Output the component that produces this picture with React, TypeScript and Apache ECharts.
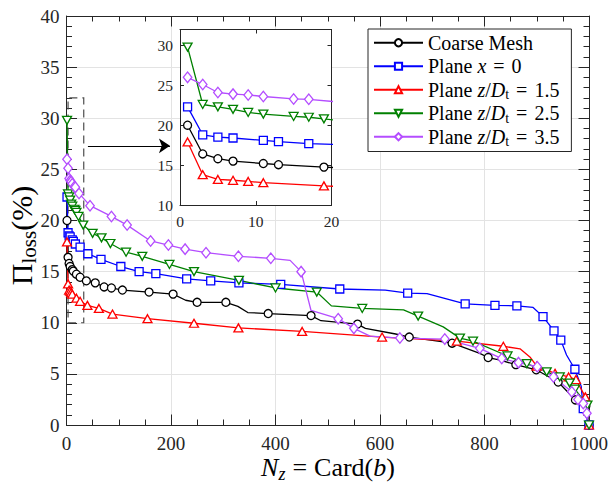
import React, { useEffect, useRef } from 'react';
import * as echarts from 'echarts';

const FONT = 'Liberation Serif';

// [N_z, Pi_loss (%), 1 = marker drawn / 0 = line vertex only]
const coarseMesh: number[][] = [
  [1, 20.0, 1], [3, 16.4, 1], [5, 15.8, 1], [7, 15.5, 1], [11, 15.2, 1], [13, 15.05, 1], [19, 14.75, 1],
  [26, 14.45, 1], [38, 14.1, 1], [55, 13.9, 1], [72, 13.5, 1], [86, 13.4, 1], [107, 13.2, 1],
  [158, 13.0, 1], [204, 12.8, 1], [228, 12.2, 0], [250, 12.0, 1], [305, 12.0, 1], [328, 11.6, 0],
  [347, 11.0, 0], [386, 10.9, 1], [468, 10.7, 1], [487, 10.2, 0], [557, 9.87, 1], [572, 9.45, 0],
  [630, 8.9, 0], [656, 8.6, 1], [738, 8.0, 1], [791, 7.0, 0], [807, 6.6, 1], [830, 6.35, 0],
  [860, 5.9, 1], [899, 5.4, 1], [941, 4.2, 1], [974, 2.45, 1], [994, 1.85, 1], [1000, 0, 1],
];
const planeX0: number[][] = [
  [1, 22.3, 1], [3, 18.8, 1], [5, 18.5, 1], [7, 18.4, 1], [11, 18.1, 1], [13, 17.95, 1], [17, 17.7, 1],
  [26, 17.4, 1], [41, 16.75, 1], [66, 16.2, 1], [104, 15.5, 1], [139, 15.0, 1], [171, 14.8, 1],
  [230, 14.3, 1], [276, 14.1, 1], [330, 13.9, 1], [410, 13.75, 1], [523, 13.3, 1], [610, 13.2, 0],
  [653, 12.9, 1], [690, 12.85, 0], [745, 12.1, 0], [763, 11.85, 1], [820, 11.7, 1], [862, 11.65, 1],
  [893, 11.5, 0], [912, 10.6, 1], [933, 9.2, 1], [946, 8.3, 1], [957, 6.85, 0], [973, 5.45, 1],
  [985, 3.8, 0], [989, 1.6, 1], [1000, 0, 1],
];
const planeZ15: number[][] = [
  [1, 17.9, 1], [3, 13.8, 1], [5, 13.2, 1], [7, 13.1, 1], [9, 12.95, 1], [11, 12.8, 1], [19, 12.4, 1],
  [26, 12.1, 1], [40, 11.7, 1], [62, 11.4, 1], [88, 10.85, 1], [155, 10.4, 1], [244, 9.95, 1],
  [329, 9.5, 1], [451, 9.15, 1], [604, 8.6, 1], [747, 8.2, 1], [836, 7.7, 1], [868, 7.45, 0],
  [888, 6.6, 0], [900, 5.75, 1], [935, 5.05, 1], [961, 4.7, 1], [975, 4.45, 1], [993, 2.75, 1],
  [1000, 0, 1],
];
const planeZ25: number[][] = [
  [1, 29.8, 1], [3, 22.6, 1], [5, 22.3, 1], [7, 22.0, 1], [9, 21.6, 1], [11, 21.4, 1], [15, 21.1, 1],
  [17, 21.0, 1], [19, 20.8, 1], [23, 20.4, 1], [32, 19.55, 1], [50, 18.75, 1], [67, 18.3, 1],
  [84, 17.75, 1], [114, 16.9, 1], [145, 16.5, 1], [197, 15.7, 1], [244, 15.0, 1], [330, 14.15, 1],
  [400, 13.4, 1], [479, 13.0, 1], [507, 11.65, 0], [566, 11.4, 1], [645, 11.25, 0], [673, 10.65, 1],
  [721, 9.6, 0], [753, 8.5, 1], [778, 8.2, 1], [844, 6.75, 1], [881, 6.0, 1], [919, 5.2, 1],
  [944, 4.7, 1], [963, 4.1, 1], [973, 3.5, 1], [997, 1.95, 1], [1000, 0, 1],
];
const planeZ35: number[][] = [
  [1, 26.0, 1], [3, 25.1, 1], [5, 24.1, 1], [7, 23.9, 1], [9, 23.8, 1], [11, 23.6, 1], [15, 23.3, 1],
  [17, 23.25, 1], [24, 22.65, 1], [45, 21.45, 1], [86, 20.4, 1], [116, 19.55, 1], [161, 18.0, 1],
  [195, 17.6, 1], [227, 17.2, 1], [267, 16.85, 1], [329, 16.5, 1], [391, 16.3, 1], [428, 16.1, 0],
  [449, 15.0, 1], [468, 11.2, 0], [520, 10.4, 1], [550, 9.45, 1], [581, 8.7, 0], [638, 8.5, 1],
  [724, 8.4, 1], [791, 7.5, 1], [833, 6.5, 1], [865, 6.1, 1], [901, 5.7, 1], [932, 4.7, 1],
  [967, 3.25, 1], [979, 2.5, 1], [989, 2.1, 1], [996, 1.15, 1], [1000, 0, 0],
];

const seriesData = [coarseMesh, planeX0, planeZ15, planeZ25, planeZ35];
const seriesNames = ['Coarse Mesh', 'Plane x = 0', 'Plane z/Dt = 1.5', 'Plane z/Dt = 2.5', 'Plane z/Dt = 3.5'];
const legendLabels = [
  'Coarse Mesh',
  'Plane {i|x}{e|=}0',
  'Plane {i|z}/{i|D}{s|t}{e|=}1.5',
  'Plane {i|z}/{i|D}{s|t}{e|=}2.5',
  'Plane {i|z}/{i|D}{s|t}{e|=}3.5',
];
const seriesColors = ['#000000', '#0000ff', '#ff0000', '#008000', '#b44dff'];
const seriesSymbols = ['circle', 'rect', 'triangle', 'path://M0,0L10,0L5,8.66Z', 'diamond'];
const seriesSymbolSizes: any[] = [8, 8, [9, 8], [9, 8], [8.5, 10.5]];

const mainXRange = [0, 1000];
const mainXInterval = 200;
const mainYRange = [0, 40];
const mainYInterval = 5;
const insetXRange = [0, 20];
const insetXInterval = 10;
const insetYRange = [10, 32];
const insetYInterval = 5;
const zoomBox = [[3, 10], [33, 32]];
const arrowLine = [[41, 27.3], [198, 27.3]];

const AXIS_COLOR = '#262626';

function toData(pts: number[][]) {
  return pts.map(([x, y, m]) => (m ? [x, y] : { value: [x, y], symbol: 'none' }));
}
const plain = (v: number) => String(v);

export default function App() {
  const ref = useRef<HTMLDivElement>(null);
  useEffect(() => {
    if (!ref.current) return;
    const chart = echarts.init(ref.current, undefined, { renderer: 'svg' });

    const labelStyle = { fontFamily: FONT, fontSize: 19, color: AXIS_COLOR, formatter: plain };
    const axisLine = { show: true, onZero: false, lineStyle: { color: AXIS_COLOR, width: 1 } };
    const mainTick = { show: true, inside: true, length: 10.5, lineStyle: { color: AXIS_COLOR, width: 1 } };
    const mainMinor = (n: number) => ({ show: true, splitNumber: n, length: 5.5, lineStyle: { color: AXIS_COLOR, width: 1 } });
    const insetTick = { show: true, inside: true, length: 4, lineStyle: { color: AXIS_COLOR, width: 1 } };
    const insetLabel = { fontFamily: FONT, fontSize: 15.5, color: AXIS_COLOR, formatter: plain };

    const series: any[] = [];
    seriesData.forEach((pts, i) => {
      const base = {
        type: 'line',
        name: seriesNames[i],
        data: toData(pts),
        symbol: seriesSymbols[i],
        symbolSize: seriesSymbolSizes[i],
        showSymbol: true,
        showAllSymbol: true,
        clip: true,
        lineStyle: { color: seriesColors[i], width: 1.3 },
        itemStyle: { color: '#ffffff', borderColor: seriesColors[i], borderWidth: 1.3 },
        emphasis: { disabled: true },
        animation: false,
      };
      const main: any = { ...base, xAxisIndex: 0, yAxisIndex: 0, z: 2 };
      if (i === 0) {
        main.markArea = {
          silent: true,
          itemStyle: { color: 'rgba(0,0,0,0)', borderColor: '#4d4d4d', borderWidth: 1.2, borderType: [8, 5] },
          label: { show: false },
          data: [[{ coord: zoomBox[0] }, { coord: zoomBox[1] }]],
        };
        main.markLine = {
          silent: true,
          symbol: ['none', 'arrow'],
          symbolSize: 11,
          label: { show: false },
          lineStyle: { color: '#000', width: 1, type: 'solid' },
          data: [[{ coord: arrowLine[0] }, { coord: arrowLine[1] }]],
        };
      }
      series.push(main);
      series.push({ ...base, xAxisIndex: 2, yAxisIndex: 2, z: 6 });
    });

    const option: any = {
      animation: false,
      textStyle: { fontFamily: FONT },
      grid: [
        { left: 66.5, right: 24, top: 16, bottom: 60, show: false },
        { left: 180, top: 29.5, width: 151.5, height: 175.5, show: true, backgroundColor: '#ffffff', borderWidth: 0, z: 3 },
      ],
      xAxis: [
        {
          type: 'value', gridIndex: 0, position: 'bottom', min: mainXRange[0], max: mainXRange[1], interval: mainXInterval,
          axisLine, axisTick: mainTick, minorTick: mainMinor(4),
          axisLabel: { ...labelStyle, margin: 8.5 },
          splitLine: { show: true, lineStyle: { color: '#e3e3e3', width: 1 } },
        },
        {
          type: 'value', gridIndex: 0, position: 'top', min: mainXRange[0], max: mainXRange[1], interval: mainXInterval,
          axisLine, axisTick: mainTick, minorTick: mainMinor(4), axisLabel: { show: false }, splitLine: { show: false },
        },
        {
          type: 'value', gridIndex: 1, position: 'bottom', min: insetXRange[0], max: insetXRange[1], interval: insetXInterval,
          axisLine, axisTick: insetTick, axisLabel: { ...insetLabel, margin: 8 }, splitLine: { show: false }, z: 4,
        },
        {
          type: 'value', gridIndex: 1, position: 'top', min: insetXRange[0], max: insetXRange[1], interval: insetXInterval,
          axisLine, axisTick: insetTick, axisLabel: { show: false }, splitLine: { show: false }, z: 4,
        },
      ],
      yAxis: [
        {
          type: 'value', gridIndex: 0, position: 'left', min: mainYRange[0], max: mainYRange[1], interval: mainYInterval,
          axisLine, axisTick: mainTick, minorTick: mainMinor(5),
          axisLabel: { ...labelStyle, margin: 7 },
          splitLine: { show: true, lineStyle: { color: '#e3e3e3', width: 1 } },
        },
        {
          type: 'value', gridIndex: 0, position: 'right', min: mainYRange[0], max: mainYRange[1], interval: mainYInterval,
          axisLine, axisTick: mainTick, minorTick: mainMinor(5), axisLabel: { show: false }, splitLine: { show: false },
        },
        {
          type: 'value', gridIndex: 1, position: 'left', min: insetYRange[0], max: insetYRange[1], interval: insetYInterval,
          axisLine, axisTick: insetTick, axisLabel: { ...insetLabel, margin: 7, showMaxLabel: false }, splitLine: { show: false }, z: 4,
        },
        {
          type: 'value', gridIndex: 1, position: 'right', min: insetYRange[0], max: insetYRange[1], interval: insetYInterval,
          axisLine, axisTick: insetTick, axisLabel: { show: false }, splitLine: { show: false }, z: 4,
        },
      ],
      legend: {
        data: seriesNames,
        orient: 'vertical',
        left: 368,
        top: 29,
        padding: [2, 12, 3, 5],
        itemWidth: 49,
        itemHeight: 9,
        itemGap: 0,
        selectedMode: false,
        backgroundColor: '#ffffff',
        borderColor: AXIS_COLOR,
        borderWidth: 1,
        borderRadius: 0,
        z: 8,
        formatter: (name: string) => legendLabels[seriesNames.indexOf(name)],
        textStyle: {
          fontFamily: FONT, fontSize: 20, color: '#000', lineHeight: 23.5,
          rich: {
            i: { fontFamily: FONT, fontSize: 20, fontStyle: 'italic', lineHeight: 23.5 },
            s: { fontFamily: FONT, fontSize: 14, lineHeight: 14, verticalAlign: 'bottom' },
            e: { fontFamily: FONT, fontSize: 20, lineHeight: 23.5, padding: [0, 7, 0, 7] },
          },
        },
      },
      graphic: [
        {
          type: 'text', x: 328, y: 467, z: 10,
          style: {
            text: '{i|N}{si|z}{e|=}Card({i|b})',
            fontFamily: FONT, fontSize: 26, fill: '#000', align: 'center', verticalAlign: 'middle', lineHeight: 31,
            rich: {
              i: { fontFamily: FONT, fontSize: 26, fontStyle: 'italic', lineHeight: 31 },
              si: { fontFamily: FONT, fontSize: 18, fontStyle: 'italic', lineHeight: 18, verticalAlign: 'bottom' },
              e: { fontFamily: FONT, fontSize: 26, lineHeight: 31, padding: [0, 7, 0, 7] },
            },
          },
        },
        {
          type: 'text', x: 21.5, y: 235.5, rotation: Math.PI / 2, z: 10,
          style: {
            text: 'Π{s|loss}(%)',
            fontFamily: FONT, fontSize: 30, fill: '#000', align: 'center', verticalAlign: 'middle', lineHeight: 35,
            rich: {
              s: { fontFamily: FONT, fontSize: 21, lineHeight: 21, verticalAlign: 'bottom' },
            },
          },
        },
      ],
      series,
    };
    chart.setOption(option);
    return () => chart.dispose();
  }, []);
  return <div ref={ref} style={{ position: 'absolute', left: 0, top: 0, width: 613, height: 485 }} />;
}
